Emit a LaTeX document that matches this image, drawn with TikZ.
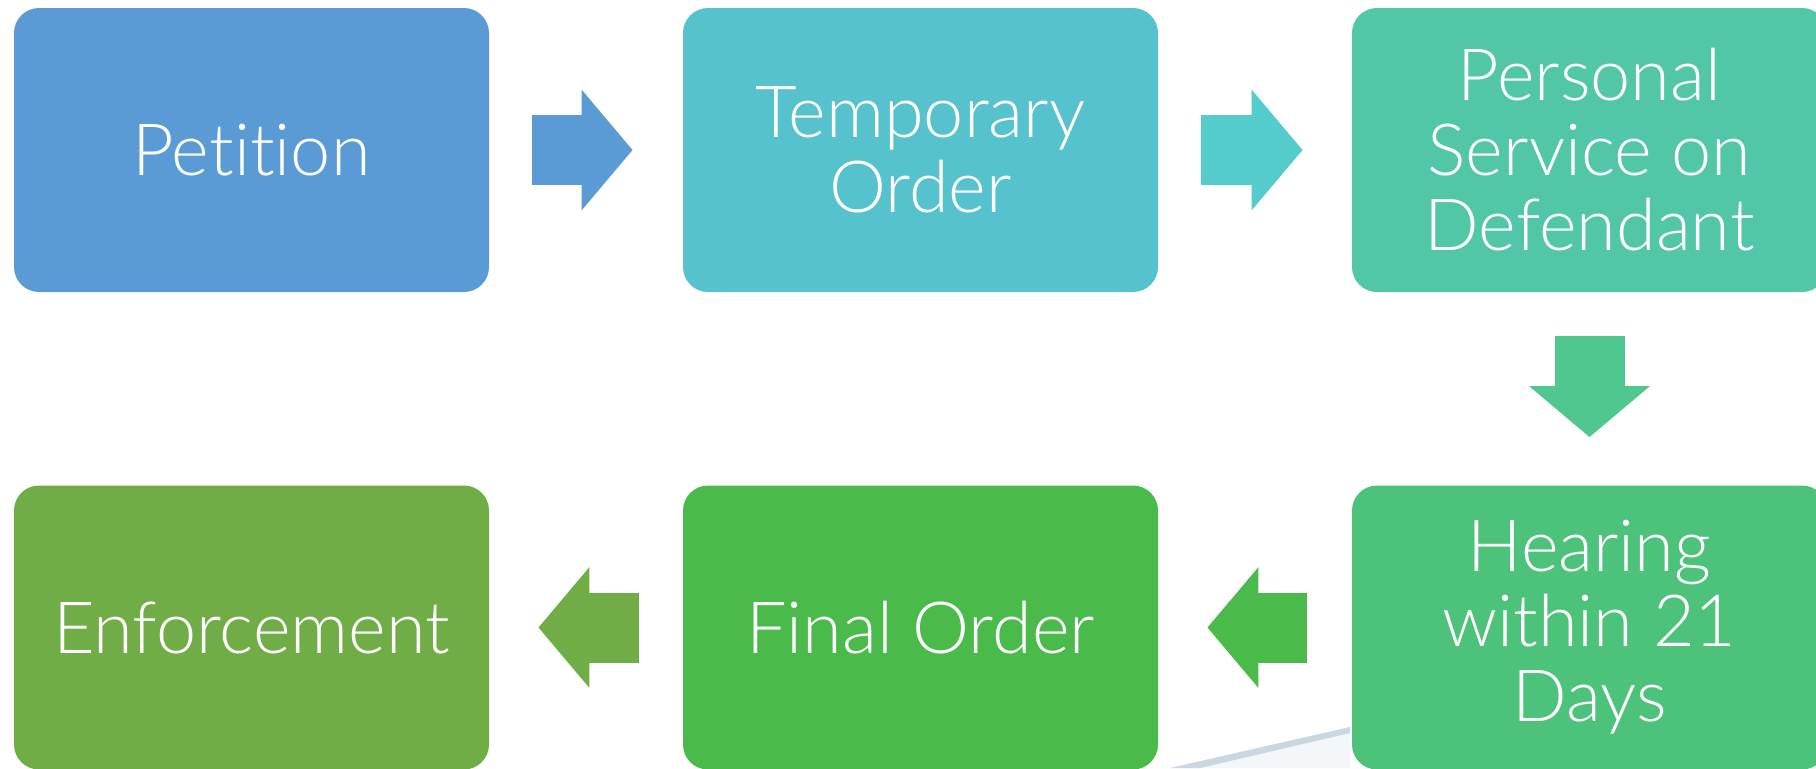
\documentclass[tikz,border=0pt]{standalone}
\usepackage{fontspec}
\setmainfont{Lato}[UprightFont=* Light,RawFeature={-liga;-clig;-calt;-dlig}]
\usepackage{tikz}
\usetikzlibrary{arrows.meta}
\definecolor{petitionblue}{HTML}{5B9BD5}
\definecolor{temporarycyan}{HTML}{56C2CE}
\definecolor{arrowcyan}{HTML}{55CCCC}
\definecolor{serviceteal}{HTML}{51C7A8}
\definecolor{arrowteal}{HTML}{4FC78F}
\definecolor{hearinggreen}{HTML}{4CC27A}
\definecolor{finalgreen}{HTML}{4ABB4B}
\definecolor{enforcegreen}{HTML}{70AD47}
\definecolor{backgray}{HTML}{CAD6E0}
\tikzstyle{stage}=[rounded corners=12.5pt,minimum width=237.5pt,minimum height=142pt,
  inner sep=0pt,text=white,align=center,font=\fontsize{36}{37.5}\selectfont]
\tikzstyle{flow}=[line width=35pt,-{Triangle[length=25.5pt,width=59pt]}]

\begin{document}
\begin{tikzpicture}[x=0.5pt,y=-0.5pt]
      \useasboundingbox (0,0) rectangle (1816,768);
      \clip (0,0) rectangle (1816,768);
      % faint backdrop at the bottom
      \fill[backgray!20] (1170,768) -- (1350,727) -- (1350,768) -- cycle;
      \fill[backgray] (1170,768) -- (1350,727) -- (1350,733) -- (1200,768) -- cycle;

      % first row
      \node[stage,fill=petitionblue] (petition) at (251.5,150) {Petition};
      \node[stage,fill=temporarycyan] (temporary) at (920.5,150) {Temporary\\Order};
      \node[stage,fill=serviceteal] (service) at (1589.5,150) {Personal\\Service on\\Defendant};
      % second row
      \node[stage,fill=hearinggreen] (hearing) at (1589.5,627.5) {Hearing\\within 21\\Days};
      \node[stage,fill=finalgreen] (final) at (920.5,627.5) {Final Order};
      \node[stage,fill=enforcegreen] (enforcement) at (251.5,627.5) {Enforcement};

      \draw[flow,draw=petitionblue,fill=petitionblue] ([xshift=21.5pt]petition.east) -- ([xshift=-25pt]temporary.west);
      \draw[flow,draw=arrowcyan,fill=arrowcyan] ([xshift=21.5pt]temporary.east) -- ([xshift=-24.5pt]service.west);
      \draw[flow,draw=arrowteal,fill=arrowteal] ([yshift=-22pt]service.south) -- ([yshift=24pt]hearing.north);
      \draw[flow,draw=finalgreen,fill=finalgreen] ([xshift=-22.5pt]hearing.west) -- ([xshift=24.5pt]final.east);
      \draw[flow,draw=enforcegreen,fill=enforcegreen] ([xshift=-22pt]final.west) -- ([xshift=24.5pt]enforcement.east);
\end{tikzpicture}
\end{document}
